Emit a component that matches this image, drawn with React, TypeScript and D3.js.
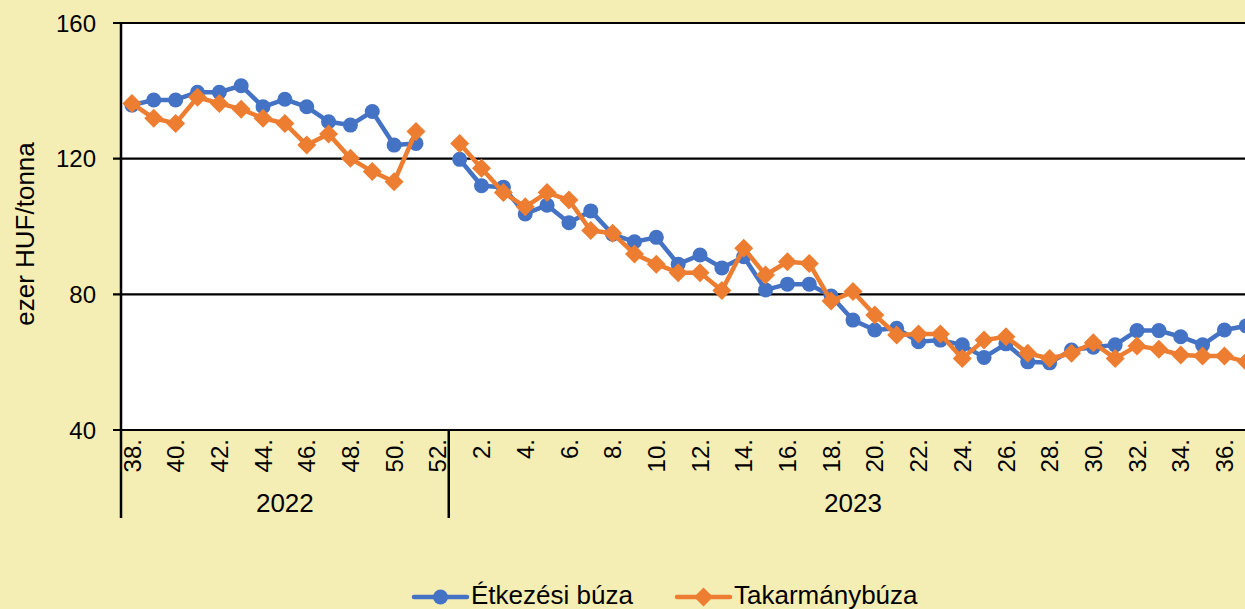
import React from "react";
import * as d3 from "d3";

const weeks2022 = [38, 39, 40, 41, 42, 43, 44, 45, 46, 47, 48, 49, 50, 51, 52];
const weeks2023 = [1, 2, 3, 4, 5, 6, 7, 8, 9, 10, 11, 12, 13, 14, 15, 16, 17, 18, 19, 20, 21, 22, 23, 24, 25, 26, 27, 28, 29, 30, 31, 32, 33, 34, 35, 36, 37];
const years = ["2022", "2023"];

const etkezesi2022 = [135.8, 137.3, 137.3, 139.6, 139.6, 141.5, 135.3, 137.5, 135.3, 130.9, 129.9, 133.9, 124.0, 124.5, null];
const etkezesi2023 = [119.8, 112.0, 111.6, 103.7, 106.3, 101.1, 104.6, 97.7, 95.5, 96.8, 88.9, 91.6, 87.8, 91.1, 81.3, 83.0, 83.0, 79.5, 72.4, 69.5, 70.0, 66.0, 66.5, 65.1, 61.4, 65.4, 60.1, 59.8, 63.6, 64.4, 65.1, 69.3, 69.3, 67.5, 65.1, 69.5, 70.7];

const takarmany2022 = [136.3, 131.9, 130.4, 138.1, 136.3, 134.6, 131.9, 130.4, 124.0, 127.3, 120.1, 116.2, 113.2, 128.0, null];
const takarmany2023 = [124.5, 117.2, 110.0, 105.8, 110.0, 107.8, 98.8, 98.0, 91.9, 88.9, 86.4, 86.4, 81.1, 93.6, 85.7, 89.6, 89.1, 78.0, 80.8, 73.9, 68.0, 68.3, 68.3, 61.1, 66.5, 67.5, 62.6, 61.1, 62.6, 65.7, 61.1, 64.8, 63.8, 62.1, 61.8, 61.8, 60.1];

const yTicks = [40, 80, 120, 160];
const seriesNames = ["Étkezési búza", "Takarmánybúza"];

const W = 1245;
const H = 609;
const FONT = "'Liberation Sans', Arial, sans-serif";
const BG = "#F5EEB4";
const BLUE = "#4472C4";
const ORANGE = "#ED7D31";

type Cat = { key: string; week: number; year: string };

const cats: Cat[] = [
  ...weeks2022.map((w) => ({ key: `2022-${w}`, week: w, year: "2022" })),
  ...weeks2023.map((w) => ({ key: `2023-${w}`, week: w, year: "2023" })),
];
const etk = [...etkezesi2022, ...etkezesi2023];
const tak = [...takarmany2022, ...takarmany2023];

const left = 121;
const top = 23;
const bottom = 430;
const step = 21.85;
const right = left + cats.length * step;

export default function App() {
  const x = d3.scaleBand<string>().domain(cats.map((c) => c.key)).range([left, right]).padding(0);
  const y = d3.scaleLinear().domain([40, 160]).range([bottom, top]);
  const cx = (i: number) => (x(cats[i].key) as number) + x.bandwidth() / 2;

  const line = d3
    .line<number | null>()
    .defined((d) => d != null)
    .x((_, i) => cx(i))
    .y((d) => y(d as number));

  const diamond = (px: number, py: number, r: number) =>
    `M${px},${py - r}L${px + r},${py}L${px},${py + r}L${px - r},${py}Z`;

  const groupBounds = years.map((yr) => {
    const idx = cats.map((c, i) => (c.year === yr ? i : -1)).filter((i) => i >= 0);
    const x0 = x(cats[idx[0]].key) as number;
    const x1 = (x(cats[idx[idx.length - 1]].key) as number) + x.bandwidth();
    return { yr, x0, x1 };
  });

  return (
    <svg
      width={W}
      height={H}
      style={{ position: "absolute", left: 0, top: 0, display: "block", overflow: "hidden" }}
      fontFamily={FONT}
    >
      <rect x={0} y={0} width={W} height={H} fill={BG} />
      <rect x={left} y={top} width={right - left} height={bottom - top} fill="#FFFFFF" />

      {/* gridlines & y ticks */}
      {yTicks.map((t) => (
        <g key={t}>
          <line x1={113} x2={right} y1={y(t)} y2={y(t)} stroke="#000" strokeWidth={2.2} />
          <text x={96} y={y(t)} dy="0.36em" textAnchor="end" fontSize={24} fill="#000">
            {t}
          </text>
        </g>
      ))}

      {/* y axis line */}
      <line x1={left} x2={left} y1={top - 1} y2={518} stroke="#000" strokeWidth={2.5} />

      {/* group separators */}
      {groupBounds.map((g) => (
        <g key={g.yr}>
          <line x1={g.x1} x2={g.x1} y1={bottom} y2={518} stroke="#000" strokeWidth={2.5} />
          <text x={(g.x0 + g.x1) / 2} y={512} textAnchor="middle" fontSize={26} fill="#000">
            {g.yr}
          </text>
        </g>
      ))}

      {/* category labels */}
      {cats.map((c, i) =>
        i % 2 === 0 ? (
          <text
            key={c.key}
            transform={`translate(${cx(i)},439) rotate(-90)`}
            textAnchor="end"
            dy="0.36em"
            fontSize={24}
            fill="#000"
          >
            {`${c.week}.`}
          </text>
        ) : null
      )}

      {/* y axis title */}
      <text
        transform={`translate(25,234) rotate(-90)`}
        textAnchor="middle"
        dy="0.36em"
        fontSize={26}
        fill="#000"
      >
        ezer HUF/tonna
      </text>

      {/* series */}
      <path d={line(etk) || ""} fill="none" stroke={BLUE} strokeWidth={4.5} strokeLinejoin="round" strokeLinecap="round" />
      {etk.map((v, i) => (v == null ? null : <circle key={`b${i}`} cx={cx(i)} cy={y(v)} r={7.5} fill={BLUE} />))}
      <path d={line(tak) || ""} fill="none" stroke={ORANGE} strokeWidth={4.5} strokeLinejoin="round" strokeLinecap="round" />
      {tak.map((v, i) => (v == null ? null : <path key={`o${i}`} d={diamond(cx(i), y(v), 9.5)} fill={ORANGE} />))}

      {/* legend */}
      <g>
        <line x1={414} x2={467} y1={597} y2={597} stroke={BLUE} strokeWidth={4.5} strokeLinecap="round" />
        <circle cx={440.5} cy={597} r={7.5} fill={BLUE} />
        <text x={471} y={604} fontSize={26} fill="#000">
          {seriesNames[0]}
        </text>
        <line x1={677} x2={730} y1={597} y2={597} stroke={ORANGE} strokeWidth={4.5} strokeLinecap="round" />
        <path d={diamond(703.5, 597, 9.5)} fill={ORANGE} />
        <text x={734} y={604} fontSize={26} fill="#000">
          {seriesNames[1]}
        </text>
      </g>
    </svg>
  );
}
